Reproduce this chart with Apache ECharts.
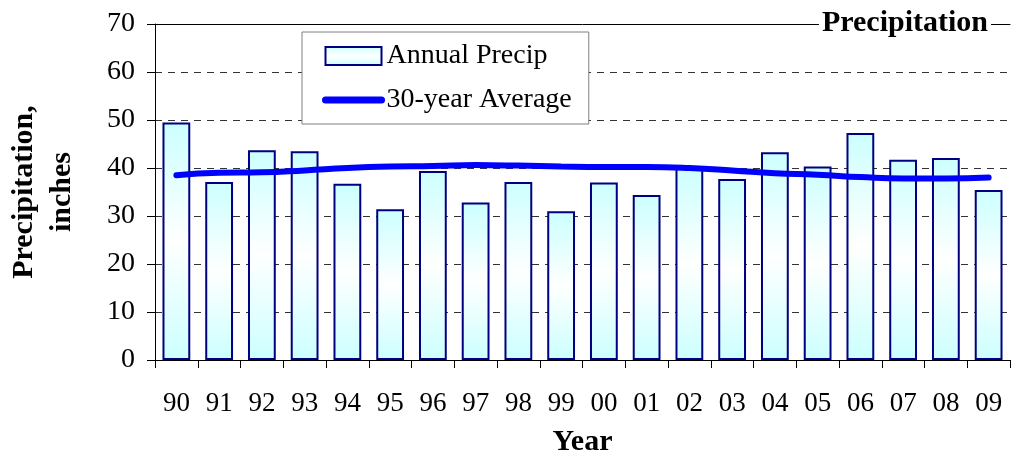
<!DOCTYPE html>
<html><head><meta charset="utf-8">
<script src="https://cdn.jsdelivr.net/npm/echarts@6/dist/echarts.min.js"></script>
<style>html,body{margin:0;padding:0;background:#fff}#c{width:1011px;height:454px}</style>
</head><body><div id="c"></div>
<script>
const years = ['90','91','92','93','94','95','96','97','98','99','00','01','02','03','04','05','06','07','08','09'];
const annualPrecip = [49.5,37.1,43.7,43.5,36.7,31.4,39.4,32.8,37.1,31.0,37.0,34.4,40.0,37.7,43.3,40.3,47.3,41.7,42.1,35.4];
const avg30 = [38.5,39.0,39.1,39.5,40.0,40.3,40.4,40.6,40.5,40.3,40.2,40.2,40.0,39.5,38.9,38.6,38.1,37.8,37.8,38.0];
const yTicks = [0,10,20,30,40,50,60,70];

const FONT = '"Liberation Serif","Times New Roman",serif';
const barFill = {type: 'linear', x: 0, y: 0, x2: 0, y2: 1, colorStops: [
  {offset: 0, color: '#CCFFFF'}, {offset: 0.5, color: '#FFFFFF'}, {offset: 1, color: '#CCFFFF'}]};
const chart = echarts.init(document.getElementById('c'));
chart.setOption({
  animation: false,
  backgroundColor: '#fff',
  title: {
    text: 'Precipitation', right: 20, top: 8,
    backgroundColor: '#fff', padding: [0, 3],
    textStyle: {fontFamily: FONT, fontSize: 30, fontWeight: 'bold', color: '#000'}
  },
  legend: {
    orient: 'vertical', left: 302, top: 32,
    padding: [10, 17, 10, 20], itemGap: 16,
    itemWidth: 56, itemHeight: 18,
    borderColor: '#808080', borderWidth: 1, backgroundColor: '#fff',
    textStyle: {fontFamily: FONT, fontSize: 28, color: '#000'},
    data: [
      {name: 'Annual Precip', icon: 'rect'},
      {name: '30-year Average', lineStyle: {width: 7, cap: 'round'}, itemStyle: {opacity: 0}}
    ]
  },
  grid: {left: 155, right: 1, top: 24, bottom: 94, containLabel: false, outerBoundsMode: 'none'},
  xAxis: [{
    type: 'category', data: years, position: 'bottom',
    name: 'Year', nameLocation: 'middle', nameGap: 67,
    nameTextStyle: {fontFamily: FONT, fontSize: 30, fontWeight: 'bold', color: '#000'},
    axisLine: {lineStyle: {color: '#000', width: 1}},
    axisTick: {show: true, inside: false, length: 8, alignWithLabel: false, lineStyle: {color: '#000'}},
    axisLabel: {fontFamily: FONT, fontSize: 27, color: '#000', margin: 30, interval: 0}
  }, {
    type: 'category', data: years, position: 'top',
    axisLine: {show: true, lineStyle: {color: '#000', width: 1}},
    axisTick: {show: false}, axisLabel: {show: false}
  }],
  yAxis: {
    type: 'value', min: 0, max: 70, interval: 10,
    name: 'Precipitation,\ninches', nameLocation: 'middle', nameGap: 74, nameRotate: 90,
    nameTextStyle: {fontFamily: FONT, fontSize: 30, fontWeight: 'bold', color: '#000', lineHeight: 38, align: 'center'},
    axisLine: {show: true, lineStyle: {color: '#000', width: 1}},
    axisTick: {show: true, inside: false, length: 8, lineStyle: {color: '#000'}},
    axisLabel: {fontFamily: FONT, fontSize: 28, color: '#000', margin: 20,
      formatter: v => yTicks.includes(v) ? String(v) : ''},
    splitLine: {show: true, lineStyle: {color: '#333', width: 1, type: [7, 6]}}
  },
  series: [{
    name: 'Annual Precip', type: 'bar', data: annualPrecip,
    barCategoryGap: '35%',
    itemStyle: {borderColor: '#000080', borderWidth: 2, color: barFill}
  }, {
    name: '30-year Average', type: 'line', data: avg30, smooth: true,
    symbol: 'none', lineStyle: {color: '#0000FF', width: 6, cap: 'round'},
    itemStyle: {color: '#0000FF'}, z: 5
  }]
});
</script></body></html>
